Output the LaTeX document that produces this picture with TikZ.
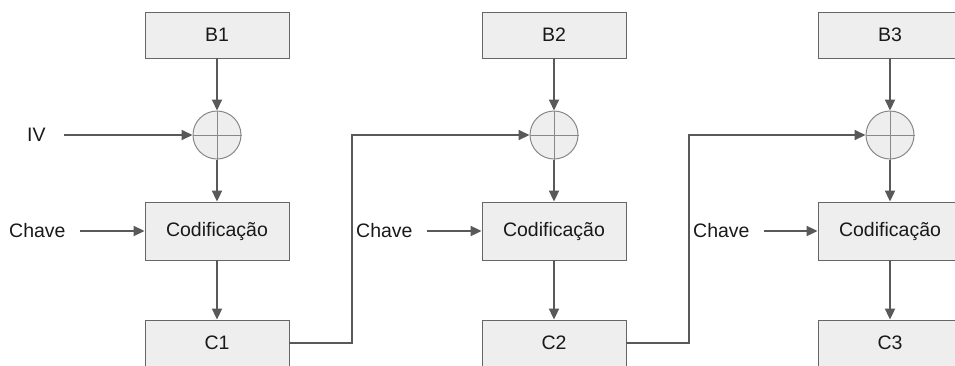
\documentclass[tikz,border=0pt]{standalone}
\usepackage{fontspec}
\setmainfont{Liberation Sans}
\usetikzlibrary{arrows.meta}
\definecolor{linec}{HTML}{595959}
\definecolor{boxfill}{HTML}{EEEEEE}
\definecolor{boxline}{HTML}{666666}
\definecolor{circline}{HTML}{888888}
\tikzset{
  blk/.style={draw=boxline, fill=boxfill, line width=0.9pt, minimum width=144pt, inner sep=0pt, font=\fontsize{19.5}{23}\selectfont, text=black!90},
  bbox/.style={blk, minimum height=46pt},
  cbox/.style={blk, minimum height=58pt},
  xorc/.style={circle, draw=circline, fill=boxfill, line width=1pt, minimum size=48pt, inner sep=0pt},
  lbl/.style={anchor=west, inner sep=0pt, font=\fontsize{19.5}{23}\selectfont, text=black!90},
  arr/.style={draw=linec, line width=2pt, -{Triangle[length=11pt,width=10pt]}},
  ln/.style={draw=linec, line width=2pt}
}
\begin{document}
\begin{tikzpicture}[x=1pt,y=-1pt]
\useasboundingbox (0,0) rectangle (955,365);
\clip (0,0) rectangle (955,365);
% column nodes
\foreach \i/\cx in {1/217,2/554,3/890}{
  \node[bbox] (B\i) at (\cx,35) {B\i};
  \node[xorc] (X\i) at (\cx,135) {};
  \draw[circline, line width=0.8pt] (X\i.north) -- (X\i.south) (X\i.west) -- (X\i.east);
  \node[cbox] (E\i) at (\cx,231) {Codificação};
  \node[bbox] (C\i) at (\cx,343) {C\i};
  \draw[arr] (B\i) -- (X\i);
  \draw[arr] (X\i) -- (E\i);
  \draw[arr] (E\i) -- (C\i);
}
% IV
\node[lbl] (iv) at (27,135) {IV};
\draw[arr] ([xshift=18pt]iv.east) -- (X1.west);
% keys
\node[lbl] (k1) at (9,231) {Chave};
\node[lbl] (k2) at (356,231) {Chave};
\node[lbl] (k3) at (693,231) {Chave};
\draw[arr] ([xshift=14pt]k1.east) -- (E1.west);
\draw[arr] ([xshift=14pt]k2.east) -- (E2.west);
\draw[arr] ([xshift=14pt]k3.east) -- (E3.west);
% chaining
\coordinate (p1) at (352,343);
\coordinate (p2) at (689,343);
\draw[arr] (C1.east) -- (p1) |- (X2.west);
\draw[arr] (C2.east) -- (p2) |- (X3.west);
\end{tikzpicture}
\end{document}
